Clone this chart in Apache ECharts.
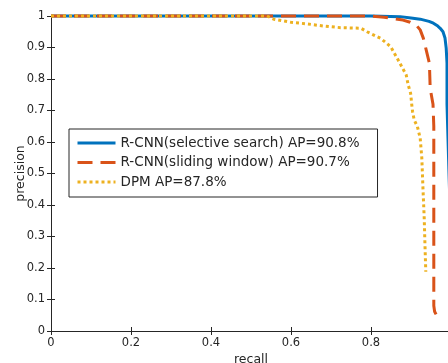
<!DOCTYPE html>
<html>
<head>
<meta charset="utf-8">
<script src="https://cdn.jsdelivr.net/npm/echarts@6/dist/echarts.min.js"></script>
<style>html,body{margin:0;padding:0;background:#fff}#c{width:448px;height:363px}</style>
</head>
<body>
<div id="c"></div>
<script>
const seriesNames = ['R-CNN(selective search) AP=90.8%', 'R-CNN(sliding window) AP=90.7%', 'DPM AP=87.8%'];
const xTicks = [0, 0.2, 0.4, 0.6, 0.8, 1];
const yTicks = [0, 0.1, 0.2, 0.3, 0.4, 0.5, 0.6, 0.7, 0.8, 0.9, 1];

const ssRecall    = [0, 0.80, 0.873, 0.900, 0.923, 0.945, 0.956, 0.967, 0.973, 0.980, 0.985, 0.988, 0.990, 0.990, 0.995, 1.000];
const ssPrecision = [1, 1.00, 0.998, 0.994, 0.990, 0.983, 0.977, 0.968, 0.961, 0.950, 0.930, 0.898, 0.850, 0.720, 0.500, 0.300];

const swRecall    = [0, 0.80, 0.833, 0.880, 0.898, 0.915, 0.923, 0.931, 0.939, 0.946, 0.948, 0.955, 0.957, 0.957, 0.959, 0.963];
const swPrecision = [1, 1.00, 0.996, 0.987, 0.980, 0.968, 0.956, 0.929, 0.887, 0.850, 0.770, 0.720, 0.650, 0.080, 0.062, 0.052];

const dpmRecall    = [0, 0.54, 0.557, 0.600, 0.640, 0.683, 0.724, 0.775, 0.790, 0.824, 0.849, 0.868, 0.877, 0.888, 0.893, 0.899, 0.902, 0.904, 0.908, 0.916, 0.923, 0.927, 0.930, 0.933, 0.935, 0.937];
const dpmPrecision = [1, 1.00, 0.990, 0.980, 0.975, 0.968, 0.963, 0.961, 0.950, 0.929, 0.903, 0.860, 0.839, 0.813, 0.781, 0.755, 0.717, 0.696, 0.670, 0.649, 0.612, 0.550, 0.450, 0.360, 0.270, 0.188];

const zip = (a, b) => a.map((v, i) => [v, b[i]]);
const FONT = 'DejaVu Sans';
const AX = '#262626';

const chart = echarts.init(document.getElementById('c'), null, {renderer: 'canvas'});
const baseAxis = {
  type: 'value', min: 0, max: 1,
  axisLine: {show: true, lineStyle: {color: AX, width: 1}},
  axisTick: {show: true, inside: true, length: 4, lineStyle: {color: AX}},
  splitLine: {show: false}
};
chart.setOption({
  animation: false,
  backgroundColor: '#fff',
  grid: {left: 51, top: 16, width: 400, bottom: 32, containLabel: false, outerBoundsMode: 'none'},
  xAxis: [
    Object.assign({}, baseAxis, {
      position: 'bottom', interval: 0.2,
      axisLabel: {color: AX, fontFamily: FONT, fontSize: 11.5, margin: 6,
        formatter: v => String(+v.toFixed(1))},
      name: 'recall', nameLocation: 'middle', nameGap: 22, nameMoveOverlap: false,
      nameTextStyle: {color: AX, fontFamily: FONT, fontSize: 12.5}
    }),
    Object.assign({}, baseAxis, {position: 'top', interval: 0.2, axisLabel: {show: false}})
  ],
  yAxis: [
    Object.assign({}, baseAxis, {
      position: 'left', interval: 0.1,
      axisLabel: {color: AX, fontFamily: FONT, fontSize: 11.5, margin: 6,
        formatter: v => String(+v.toFixed(1))},
      name: 'precision', nameLocation: 'middle', nameGap: 24, nameMoveOverlap: false,
      nameTextStyle: {color: AX, fontFamily: FONT, fontSize: 12.5}
    }),
    Object.assign({}, baseAxis, {position: 'right', interval: 0.1, axisLabel: {show: false}})
  ],
  legend: {
    orient: 'vertical', left: 69, top: 129,
    padding: [7, 18, 8, 7], itemGap: 5.5,
    itemWidth: 38, itemHeight: 14,
    backgroundColor: '#fff', borderColor: AX, borderWidth: 1, borderRadius: 0,
    itemStyle: {color: 'rgba(0,0,0,0)', borderColor: 'rgba(0,0,0,0)', borderWidth: 0, opacity: 0},
    lineStyle: {width: 3},
    textStyle: {color: AX, fontFamily: FONT, fontSize: 13.5},
    data: seriesNames
  },
  series: [
    {name: seriesNames[0], type: 'line', data: zip(ssRecall, ssPrecision), symbol: 'none', clip: false,
     lineStyle: {color: '#0072BD', width: 3}, itemStyle: {color: '#0072BD'}},
    {name: seriesNames[1], type: 'line', data: zip(swRecall, swPrecision), symbol: 'none', clip: false,
     lineStyle: {color: '#D95319', width: 3, type: [15, 8]}, itemStyle: {color: '#D95319'}},
    {name: seriesNames[2], type: 'line', data: zip(dpmRecall, dpmPrecision), symbol: 'none', clip: false,
     lineStyle: {color: '#EDB120', width: 3, type: [3, 3]}, itemStyle: {color: '#EDB120'}}
  ]
});
</script>
</body>
</html>
